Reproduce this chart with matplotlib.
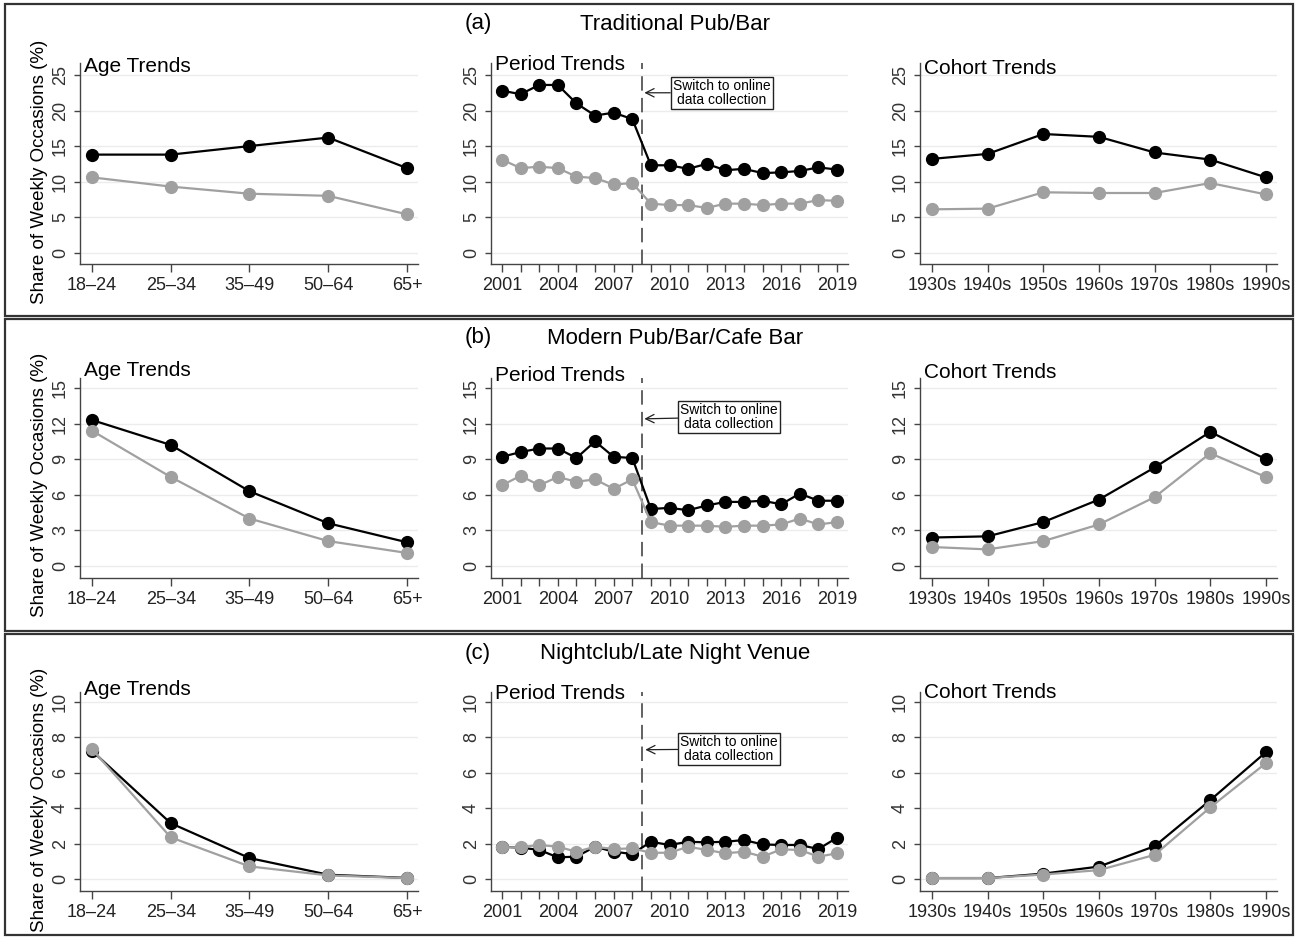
import matplotlib
matplotlib.use("Agg")
import matplotlib.pyplot as plt
from matplotlib.patches import Rectangle

plt.rcParams['font.family'] = ['Liberation Sans', 'DejaVu Sans']

#%% data
age_labels = ['18–24', '25–34', '35–49', '50–64', '65+']
years = list(range(2001, 2020))
year_ticks = [2001, 2004, 2007, 2010, 2013, 2016, 2019]
cohort_labels = ['1930s', '1940s', '1950s', '1960s', '1970s', '1980s', '1990s']

trad_age_black = [13.8, 13.8, 15.0, 16.2, 11.9]
trad_age_gray = [10.6, 9.3, 8.3, 8.0, 5.4]
trad_period_black = [22.8, 22.3, 23.6, 23.6, 21.0, 19.3, 19.7, 18.8, 12.3, 12.3,
                     11.8, 12.5, 11.6, 11.8, 11.2, 11.3, 11.5, 12.0, 11.7]
trad_period_gray = [13.1, 11.9, 12.1, 11.9, 10.7, 10.5, 9.6, 9.8, 6.9, 6.7,
                    6.7, 6.3, 6.9, 6.9, 6.7, 6.9, 6.9, 7.4, 7.3]
trad_cohort_black = [13.2, 13.9, 16.7, 16.3, 14.1, 13.1, 10.6]
trad_cohort_gray = [6.1, 6.2, 8.5, 8.4, 8.4, 9.8, 8.2]

modern_age_black = [12.3, 10.2, 6.3, 3.6, 2.0]
modern_age_gray = [11.4, 7.5, 4.0, 2.1, 1.1]
modern_period_black = [9.2, 9.6, 9.9, 9.9, 9.1, 10.5, 9.2, 9.1, 4.8, 4.9,
                       4.7, 5.1, 5.4, 5.4, 5.5, 5.2, 6.1, 5.5, 5.5]
modern_period_gray = [6.8, 7.6, 6.8, 7.5, 7.1, 7.3, 6.5, 7.3, 3.7, 3.4,
                      3.4, 3.4, 3.3, 3.4, 3.4, 3.5, 4.0, 3.5, 3.7]
modern_cohort_black = [2.4, 2.5, 3.7, 5.6, 8.3, 11.3, 9.0]
modern_cohort_gray = [1.6, 1.4, 2.1, 3.5, 5.8, 9.5, 7.5]

night_age_black = [7.24, 3.15, 1.18, 0.24, 0.06]
night_age_gray = [7.33, 2.35, 0.71, 0.20, 0.05]
night_period_black = [1.82, 1.77, 1.64, 1.22, 1.26, 1.82, 1.54, 1.41, 2.10, 1.92,
                      2.10, 2.07, 2.10, 2.20, 1.95, 1.92, 1.92, 1.69, 2.33]
night_period_gray = [1.79, 1.79, 1.92, 1.82, 1.54, 1.82, 1.69, 1.73, 1.48, 1.48,
                     1.82, 1.64, 1.45, 1.54, 1.26, 1.67, 1.64, 1.26, 1.45]
night_cohort_black = [0.05, 0.05, 0.30, 0.70, 1.85, 4.45, 7.16]
night_cohort_gray = [0.05, 0.05, 0.25, 0.50, 1.36, 4.04, 6.54]

row_letters = ['(a)', '(b)', '(c)']
row_titles = ['Traditional Pub/Bar', 'Modern Pub/Bar/Cafe Bar', 'Nightclub/Late Night Venue']

#%% layout (pixels of a 1301x938 canvas)
W, H = 1301, 938
fig = plt.figure(figsize=(W / 100, H / 100), dpi=100)

def px_axes(l, t, r, b):
    return fig.add_axes([l / W, 1 - b / H, (r - l) / W, (b - t) / H])

cols = [(80, 418), (491, 848), (920, 1277)]
panel_names = ['Age Trends', 'Period Trends', 'Cohort Trends']
rows = [
    dict(top=63, bot=264, ylim=(-1.59, 26.69), yticks=range(0, 26, 5),
         age=(trad_age_black, trad_age_gray),
         period=(trad_period_black, trad_period_gray),
         cohort=(trad_cohort_black, trad_cohort_gray),
         note=(2012.8, 22.5), tip=(2008.65, 22.5),
         title_y=24, frame=(4, 316), ylab_y=172, sub_y=(67, 64, 68)),
    dict(top=378, bot=578, ylim=(-1.01, 15.84), yticks=range(0, 16, 3),
         age=(modern_age_black, modern_age_gray),
         period=(modern_period_black, modern_period_gray),
         cohort=(modern_cohort_black, modern_cohort_gray),
         note=(2013.2, 12.55), tip=(2008.65, 12.4),
         title_y=338, frame=(319, 631), ylab_y=485, sub_y=(371, 375, 373)),
    dict(top=692, bot=891, ylim=(-0.68, 10.56), yticks=range(0, 11, 2),
         age=(night_age_black, night_age_gray),
         period=(night_period_black, night_period_gray),
         cohort=(night_cohort_black, night_cohort_gray),
         note=(2013.2, 7.34), tip=(2008.7, 7.3),
         title_y=653, frame=(634, 935), ylab_y=800, sub_y=(689, 693, 692)),
]

BLACK = '#000000'
GRAY = '#a0a0a0'
AXC = '#444444'

def style(ax, row):
    ax.set_ylim(*row['ylim'])
    ax.set_yticks(list(row['yticks']))
    ax.grid(axis='y', color='#ececec', lw=1.0)
    ax.set_axisbelow(True)
    for s in ['top', 'right']:
        ax.spines[s].set_visible(False)
    for s in ['left', 'bottom']:
        ax.spines[s].set_color(AXC)
        ax.spines[s].set_linewidth(1.0)
    ax.tick_params(axis='x', length=6, width=1, color=AXC, labelsize=13, pad=3,
                   labelcolor='#222222')
    ax.tick_params(axis='y', length=4, width=1, color=AXC, labelsize=13, pad=4,
                   labelcolor='#333333', labelrotation=90)
    for lab in ax.get_yticklabels():
        lab.set_va('center')

def draw(ax, x, pair):
    b, g = pair
    ax.plot(x, b, color=BLACK, lw=1.6, marker='o', ms=8.5, zorder=3)
    ax.plot(x, g, color=GRAY, lw=1.6, marker='o', ms=8.5, zorder=4)

for i, row in enumerate(rows):
    # row frame
    ft, fb = row['frame']
    fig.add_artist(Rectangle((5 / W, 1 - fb / H), (1293 - 5) / W, (fb - ft) / H,
                             transform=fig.transFigure, fill=False,
                             ec='#333333', lw=1.6))
    fig.text(478 / W, 1 - row['title_y'] / H, row_letters[i], fontsize=16,
             ha='center', va='center')
    fig.text(675 / W, 1 - row['title_y'] / H, row_titles[i], fontsize=16,
             ha='center', va='center')

    # age
    ax = px_axes(cols[0][0], row['top'], cols[0][1], row['bot'])
    draw(ax, range(len(age_labels)), row['age'])
    ax.set_xticks(range(len(age_labels)))
    ax.set_xticklabels(age_labels)
    ax.set_xlim(-0.152, 4.14)
    style(ax, row)
    fig.text(40 / W, 1 - row['ylab_y'] / H, 'Share of Weekly Occasions (%)',
             rotation=90, fontsize=13.5, ha='center', va='center')

    # period
    ax = px_axes(cols[1][0], row['top'], cols[1][1], row['bot'])
    draw(ax, years, row['period'])
    ax.set_xticks(years, minor=True)
    ax.set_xticks(year_ticks)
    ax.tick_params(axis='x', which='minor', length=6, width=1, color=AXC)
    ax.set_xlim(2000.41, 2019.59)
    style(ax, row)
    ax.axvline(2008.5, color='#555555', lw=1.3, dashes=(8, 4), zorder=2)
    ax.annotate('Switch to online\ndata collection', xy=row['tip'],
                xytext=row['note'], fontsize=10, ha='center', va='center',
                linespacing=0.95,
                bbox=dict(boxstyle='square,pad=0.15', fc='white', ec='#222222', lw=1),
                arrowprops=dict(arrowstyle='->,head_length=0.6,head_width=0.3',
                                color='#222222', lw=0.9, shrinkA=0, shrinkB=0))

    # cohort
    ax = px_axes(cols[2][0], row['top'], cols[2][1], row['bot'])
    draw(ax, range(len(cohort_labels)), row['cohort'])
    ax.set_xticks(range(len(cohort_labels)))
    ax.set_xticklabels(cohort_labels)
    ax.set_xlim(-0.216, 6.2)
    style(ax, row)

    # panel titles
    for j, name in enumerate(panel_names):
        fig.text((cols[j][0] + 4) / W, 1 - row['sub_y'][j] / H, name,
                 fontsize=15, ha='left', va='center')

fig.savefig('out.png', dpi=100)
